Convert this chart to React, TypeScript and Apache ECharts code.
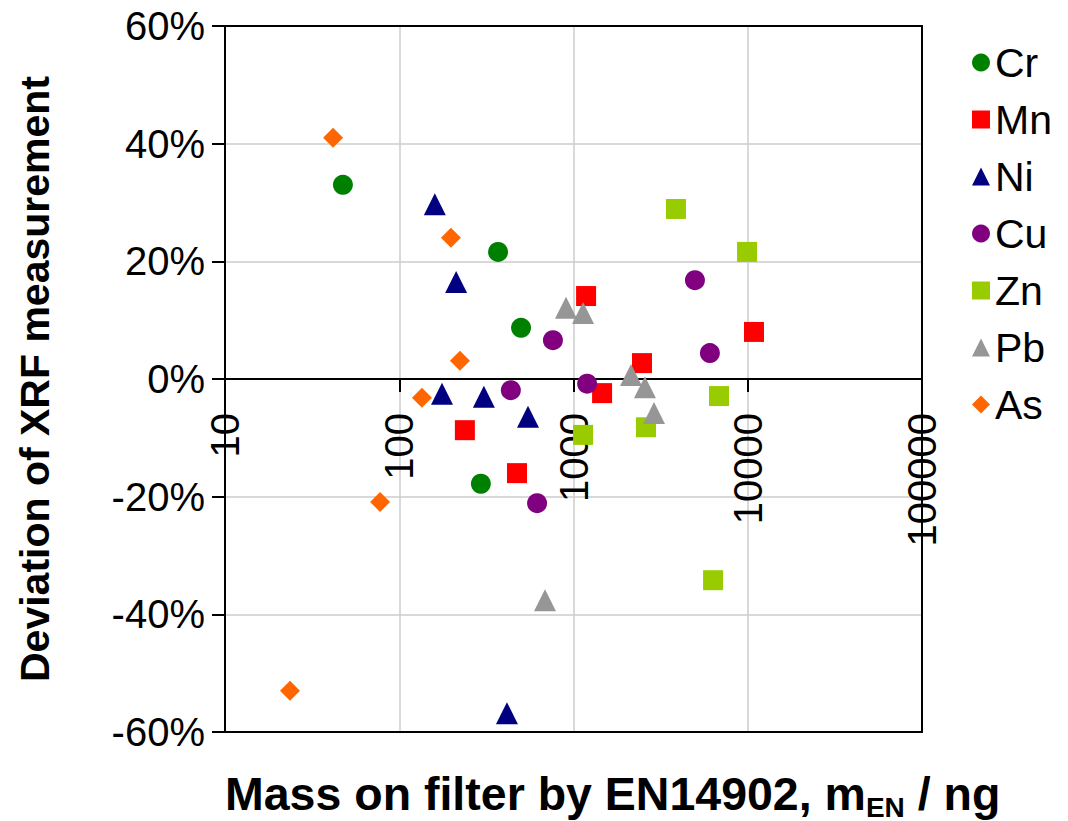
import React, { useEffect, useRef } from "react";
import * as echarts from "echarts";

const seriesNames = ["Cr", "Mn", "Ni", "Cu", "Zn", "Pb", "As"];
const seriesColors = ["#008000", "#FF0000", "#000080", "#800080", "#99CC00", "#969696", "#FF6600"];
const seriesSymbols = ["circle", "rect", "triangle", "circle", "rect", "triangle", "diamond"];

const crX = [47.5, 369, 500, 294];
const crY = [33.0, 21.6, 8.7, -17.8];
const mnX = [1181, 2473, 1459, 10860, 238, 474];
const mnY = [14.1, 2.7, -2.4, 8.0, -8.7, -16.0];
const niX = [160, 212, 176, 306, 548, 415];
const niY = [29.7, 16.5, -2.5, -3.0, -6.4, -56.8];
const cuX = [762, 437, 618, 1197, 4977, 6064];
const cuY = [6.6, -1.9, -21.1, -0.8, 16.8, 4.4];
const znX = [3873, 9910, 6842, 2606, 1135, 6324];
const znY = [28.9, 21.6, -2.9, -8.2, -9.5, -34.2];
const pbX = [906, 1135, 2138, 2571, 2897, 686];
const pbY = [12.1, 11.2, 0.7, -1.4, -5.8, -37.6];
const asX = [41.7, 198, 223, 135, 77.6, 23.6];
const asY = [41.0, 24.0, 3.1, -3.2, -20.9, -53.0];

const xs = [crX, mnX, niX, cuX, znX, pbX, asX];
const ys = [crY, mnY, niY, cuY, znY, pbY, asY];

const FONT = "'Liberation Sans', Arial, sans-serif";

export default function App() {
  const ref = useRef<HTMLDivElement>(null);
  useEffect(() => {
    if (!ref.current) return;
    const chart = echarts.init(ref.current, undefined, { renderer: "svg" });
    const series = seriesNames.map((name, i) => ({
      name,
      type: "scatter",
      symbol: seriesSymbols[i],
      symbolSize: seriesSymbols[i] === "triangle" ? 22 : 20,
      itemStyle: { color: seriesColors[i], opacity: 1 },
      data: xs[i].map((x, j) => [x, ys[i][j]]),
      z: 10,
    }));
    const frameLine = { show: true, onZero: false, lineStyle: { color: "#000", width: 2 } };
    const hiddenBits = {
      axisTick: { show: false },
      axisLabel: { show: false },
      splitLine: { show: false },
    };
    const grid = { show: true, showMinLine: false, showMaxLine: false, lineStyle: { color: "#cccccc", width: 1.5 } };
    chart.setOption({
      animation: false,
      backgroundColor: "#ffffff",
      textStyle: { fontFamily: FONT },
      title: {
        text: "{b|Mass on filter by EN14902, m}{s|EN}{b| / ng}",
        left: 220,
        top: 766,
        textStyle: {
          rich: {
            b: { fontFamily: FONT, fontWeight: "bold", fontSize: 46.5, color: "#000", lineHeight: 46, verticalAlign: "bottom" },
            s: { fontFamily: FONT, fontWeight: "bold", fontSize: 28, color: "#000", lineHeight: 46, verticalAlign: "bottom", padding: [0, 0, -4, 0] },
          },
        },
      },
      grid: {
        left: 225,
        top: 26,
        width: 697,
        height: 706,
        show: false,
        containLabel: false,
        outerBoundsMode: "none",
      },
      legend: {
        orient: "vertical",
        left: 967,
        top: 37,
        itemWidth: 18,
        itemHeight: 18,
        itemGap: 16,
        textStyle: { fontFamily: FONT, fontSize: 41, color: "#000", lineHeight: 41 },
        data: seriesNames.map((n, i) => ({ name: n, icon: seriesSymbols[i] })),
      },
      xAxis: [
        {
          type: "log",
          logBase: 10,
          min: 10,
          max: 100000,
          position: "bottom",
          offset: -353,
          axisLine: frameLine,
          axisTick: { show: true, inside: false, length: 13, lineStyle: { color: "#000", width: 2 } },
          axisLabel: {
            rotate: 90,
            margin: 34,
            fontFamily: FONT,
            fontSize: 40,
            color: "#000",
            formatter: (v: number) => String(Math.round(v)),
          },
          splitLine: grid,
          z: 6,
        },
        { type: "log", logBase: 10, min: 10, max: 100000, position: "top", axisLine: frameLine, ...hiddenBits, z: 6 },
        { type: "log", logBase: 10, min: 10, max: 100000, position: "bottom", offset: 0, axisLine: frameLine, ...hiddenBits, z: 6 },
      ],
      yAxis: [
        {
          type: "value",
          min: -60,
          max: 60,
          interval: 20,
          position: "left",
          name: "Deviation of XRF measurement",
          nameLocation: "middle",
          nameGap: 170,
          nameRotate: 90,
          nameTextStyle: { fontFamily: FONT, fontWeight: "bold", fontSize: 41, color: "#000" },
          axisLine: { show: true, onZero: false, lineStyle: { color: "#000", width: 2 } },
          axisTick: { show: true, inside: false, length: 13, lineStyle: { color: "#000", width: 2 } },
          axisLabel: { margin: 20, fontFamily: FONT, fontSize: 40, color: "#000", formatter: "{value}%" },
          splitLine: grid,
          z: 2,
        },
        { type: "value", min: -60, max: 60, interval: 20, position: "right", axisLine: frameLine, ...hiddenBits, z: 6 },
      ],
      series,
    });
    return () => chart.dispose();
  }, []);
  return (
    <div
      ref={ref}
      style={{ position: "fixed", left: 0, top: 0, width: 1068, height: 821, background: "#fff" }}
    />
  );
}
